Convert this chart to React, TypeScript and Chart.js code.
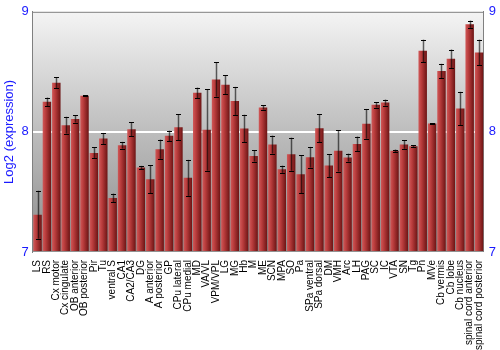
import React, { useEffect, useRef } from "react";
import { Chart, registerables } from "chart.js";

Chart.register(...registerables);

const categories: string[] = [
  "LS", "RS", "Cx motor", "Cx cingulate", "OB anterior", "OB posterior", "Pir", "Tu",
  "ventral S", "CA1", "CA2/CA3", "DG", "A anterior", "A posterior", "GP", "CPu lateral",
  "CPu medial", "MD", "VA/VL", "VPM/VPL", "LG", "MG", "Hb", "M", "ME", "SCN", "MPA",
  "SO", "Pa", "SPa ventral", "SPa dorsal", "DM", "VMH", "Arc", "LH", "PAG", "SC", "IC",
  "VTA", "SN", "Tg", "Pn", "MVe", "Cb vermis", "Cb lobe", "Cb nucleus",
  "spinal cord anterior", "spinal cord posterior",
];

const expression: number[] = [
  7.31, 8.25, 8.41, 8.056, 8.108, 8.30, 7.825, 7.944,
  7.45, 7.889, 8.022, 7.703, 7.606, 7.856, 7.967, 8.039,
  7.617, 8.325, 8.017, 8.436, 8.392, 8.258, 8.028, 7.80, 8.203, 7.894, 7.689,
  7.814, 7.647, 7.789, 8.031, 7.719, 7.842, 7.786, 7.90, 8.067, 8.225, 8.244,
  7.842, 7.894, 7.881, 8.675, 8.069, 8.506, 8.608, 8.194,
  8.897, 8.661,
];

const errors: number[] = [
  0.2, 0.036, 0.045, 0.07, 0.03, 0.005, 0.045, 0.047,
  0.036, 0.028, 0.058, 0.014, 0.118, 0.08, 0.043, 0.107,
  0.15, 0.044, 0.34, 0.143, 0.08, 0.117, 0.115, 0.047, 0.017, 0.075, 0.03,
  0.138, 0.157, 0.086, 0.117, 0.096, 0.172, 0.033, 0.061, 0.124, 0.022, 0.025,
  0.011, 0.035, 0.007, 0.093, 0.003, 0.061, 0.078, 0.14,
  0.03, 0.107,
];

const yTicks: number[] = [7, 8, 9];

const FONT = "'Liberation Sans', Arial, sans-serif";
const BLUE = "#1a1aff";

const backgroundPlugin = {
  id: "plotBackground",
  beforeDraw(chart: any) {
    const { ctx, chartArea } = chart;
    if (!chartArea) return;
    const { left, top, right, bottom } = chartArea;
    const g = ctx.createLinearGradient(0, top, 0, bottom);
    g.addColorStop(0, "#f4f4f4");
    g.addColorStop(0.5, "#bdbdbd");
    g.addColorStop(1, "#8c8c8c");
    ctx.save();
    ctx.fillStyle = g;
    ctx.fillRect(left, top, right - left, bottom - top);
    ctx.restore();
  },
  afterDraw(chart: any) {
    const { ctx, chartArea } = chart;
    const { left, top, right } = chartArea;
    ctx.save();
    ctx.strokeStyle = "#808080";
    ctx.lineWidth = 1;
    ctx.beginPath();
    ctx.moveTo(left, top + 0.5);
    ctx.lineTo(right, top + 0.5);
    ctx.stroke();
    ctx.restore();
  },
};

const errorBarPlugin = {
  id: "errorBars",
  afterDatasetsDraw(chart: any) {
    const { ctx } = chart;
    const meta = chart.getDatasetMeta(0);
    const ys = chart.scales.y;
    ctx.save();
    meta.data.forEach((bar: any, i: number) => {
      const v = expression[i];
      const e = errors[i];
      const x = Math.round(bar.x) + 0.5;
      const yHi = ys.getPixelForValue(v + e);
      const yLo = ys.getPixelForValue(v - e);
      ctx.strokeStyle = "rgba(0,0,0,0.6)";
      ctx.lineWidth = 1.5;
      ctx.beginPath();
      ctx.moveTo(x, yHi);
      ctx.lineTo(x, yLo);
      ctx.stroke();
      ctx.strokeStyle = "#000";
      ctx.lineWidth = 1;
      ctx.beginPath();
      ctx.moveTo(x - 2.5, Math.round(yHi) + 0.5);
      ctx.lineTo(x + 2.5, Math.round(yHi) + 0.5);
      ctx.moveTo(x - 2.5, Math.round(yLo) + 0.5);
      ctx.lineTo(x + 2.5, Math.round(yLo) + 0.5);
      ctx.stroke();
    });
    ctx.restore();
  },
};

export default function App() {
  const canvasRef = useRef<HTMLCanvasElement | null>(null);

  useEffect(() => {
    document.body.style.margin = "0";
    const canvas = canvasRef.current;
    if (!canvas) return;

    const barColor = (c: any) => {
      const chart = c.chart;
      const xs = chart.scales && chart.scales.x;
      if (!xs || c.dataIndex === undefined || !chart.chartArea) return "#a83030";
      const cx = xs.getPixelForValue(c.dataIndex);
      const w = (xs.width / categories.length) * 0.9;
      const g = chart.ctx.createLinearGradient(cx - w / 2, 0, cx + w / 2, 0);
      g.addColorStop(0, "#d05858");
      g.addColorStop(0.35, "#b93c3c");
      g.addColorStop(1, "#6c1414");
      return g;
    };

    const chart = new Chart(canvas, {
      type: "bar",
      data: {
        labels: categories,
        datasets: [
          {
            data: expression,
            backgroundColor: barColor,
            borderWidth: 0,
            barPercentage: 0.9,
            categoryPercentage: 1.0,
            base: 7,
          } as any,
        ],
      },
      options: {
        animation: false,
        responsive: false,
        maintainAspectRatio: false,
        layout: { padding: { left: 2, right: 2, top: 0, bottom: 0 } },
        plugins: {
          legend: { display: false },
          tooltip: { enabled: false },
        },
        scales: {
          x: {
            grid: { display: false },
            border: { display: false },
            ticks: {
              autoSkip: false,
              maxRotation: 90,
              minRotation: 90,
              color: "#000",
              padding: 0,
              font: { family: FONT, size: 10 },
            },
          },
          y: {
            position: "left",
            min: 7,
            max: 9,
            afterBuildTicks: (s: any) => {
              s.ticks = yTicks.map((v) => ({ value: v }));
            },
            grid: {
              color: (c: any) => (c.tick && c.tick.value === 8 ? "#ffffff" : "rgba(0,0,0,0)"),
              lineWidth: 2,
              drawTicks: false,
            },
            border: { display: true, color: "#808080" },
            ticks: { color: BLUE, padding: 4, font: { family: FONT, size: 13 } },
            title: {
              display: true,
              text: "Log2 (expression)",
              color: BLUE,
              padding: { top: 0, bottom: 0 },
              font: { family: FONT, size: 13 },
            },
          },
          y2: {
            position: "right",
            min: 7,
            max: 9,
            afterBuildTicks: (s: any) => {
              s.ticks = yTicks.map((v) => ({ value: v }));
            },
            grid: { display: false, drawOnChartArea: false, tickLength: 3, color: "#808080" },
            border: { display: true, color: "#808080" },
            ticks: { color: BLUE, padding: 2, font: { family: FONT, size: 13 } },
          },
        },
      },
      plugins: [backgroundPlugin, errorBarPlugin],
    });

    return () => chart.destroy();
  }, []);

  return (
    <div style={{ position: "absolute", left: 0, top: 0, width: 500, height: 350 }}>
      <canvas ref={canvasRef} width={500} height={350} style={{ width: 500, height: 350 }} />
    </div>
  );
}
